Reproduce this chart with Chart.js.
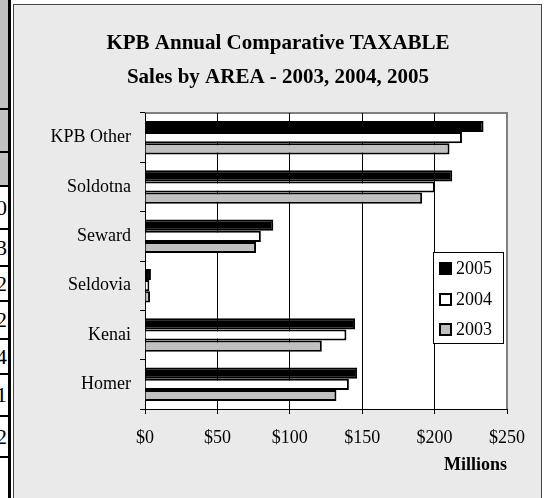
<!DOCTYPE html>
<html>
<head>
<meta charset="utf-8">
<script src="https://cdn.jsdelivr.net/npm/chart.js@4/dist/chart.umd.min.js"></script>
<style>
html,body{margin:0;padding:0;background:#fff;width:546px;height:498px;overflow:hidden;position:relative;font-family:"Liberation Serif","Times New Roman",serif;}
#frame{position:absolute;left:13px;top:4px;width:527px;height:500px;border:1px solid #444;background:#eaeaea;}
#strip{position:absolute;left:0;top:0;width:8px;height:498px;border-right:3px solid #000;}
.cell{position:absolute;left:0;width:8px;overflow:hidden;border-top:2px solid #000;box-sizing:border-box;}
.cell span{position:absolute;right:1px;font-size:22px;line-height:22px;color:#000;white-space:nowrap;}
#c{position:absolute;left:0;top:0;}
</style>
</head>
<body>
<div id="strip"></div>
<div id="frame"></div>
<canvas id="c" width="546" height="498"></canvas>
<script>
// ---- data ----
const categories = ['KPB Other', 'Soldotna', 'Seward', 'Seldovia', 'Kenai', 'Homer'];
const seriesLabels = ['2005', '2004', '2003'];
const sales2005 = [233.8, 212.2, 88.6, 4.1, 145.1, 146.5];
const sales2004 = [218.9, 200.2, 80.0, 3.0, 139.1, 140.8];
const sales2003 = [210.3, 191.4, 76.7, 3.5, 122.1, 132.2];
const xTickValues = [0, 50, 100, 150, 200, 250];
const chartTitle = ['KPB Annual Comparative TAXABLE', 'Sales by AREA - 2003, 2004, 2005'];
const axisTitle = 'Millions';
// partially visible neighbouring table (left edge)
const stripDigits = ['', '', '', '0', '3', '2', '2', '4', '1', '2'];

// ---- left strip (cropped table) ----
(function(){
  const strip = document.getElementById('strip');
  const bounds = [0, 108, 151, 185, 228, 265, 300, 338, 373, 415, 456, 498];
  for (let i = 0; i < bounds.length - 1; i++) {
    const d = document.createElement('div');
    d.className = 'cell';
    d.style.top = bounds[i] + 'px';
    d.style.height = (bounds[i+1] - bounds[i]) + 'px';
    d.style.background = i < 3 ? '#c0c0c0' : '#fff';
    if (i === 0) d.style.borderTop = 'none';
    const t = stripDigits[i] || '';
    if (t) {
      const s = document.createElement('span');
      s.textContent = t;
      s.style.top = ((bounds[i+1] - bounds[i]) / 2 - 12) + 'px';
      d.appendChild(s);
    }
    strip.appendChild(d);
  }
})();

const FONT = 'Liberation Serif';

const plotBg = {
  id: 'plotBg',
  beforeDraw(chart) {
    const {ctx, chartArea: a} = chart;
    ctx.save();
    ctx.fillStyle = '#ffffff';
    ctx.fillRect(a.left, a.top, a.right - a.left, a.bottom - a.top);
    ctx.strokeStyle = '#808080';
    ctx.lineWidth = 2;
    ctx.beginPath();
    ctx.moveTo(a.left, a.top);
    ctx.lineTo(a.right, a.top);
    ctx.lineTo(a.right, a.bottom);
    ctx.stroke();
    ctx.restore();
  }
};

const boxLegend = {
  id: 'boxLegend',
  afterDraw(chart) {
    const {ctx, chartArea: a} = chart;
    const w = 70, h = 91;
    const x = Math.round(a.right - 4 - w), y = Math.round(a.top + 139);
    ctx.save();
    ctx.fillStyle = '#fff';
    ctx.fillRect(x, y, w, h);
    ctx.strokeStyle = '#000';
    ctx.lineWidth = 1;
    ctx.strokeRect(x + 0.5, y + 0.5, w, h);
    ctx.font = Chart.helpers.toFont({family: FONT, size: 18}).string;
    ctx.textBaseline = 'middle';
    ctx.textAlign = 'left';
    const rows = [16, 47, 77];
    chart.data.datasets.forEach((ds, i) => {
      const cy = y + rows[i];
      ctx.fillStyle = ds.backgroundColor;
      ctx.fillRect(x + 6, cy - 6, 13, 13);
      ctx.lineWidth = 2;
      ctx.strokeStyle = '#000';
      ctx.strokeRect(x + 7, cy - 5, 11, 11);
      ctx.fillStyle = '#000';
      ctx.fillText(ds.label, x + 23, cy + 1);
    });
    ctx.restore();
  }
};

function draw() {
  new Chart(document.getElementById('c'), {
    type: 'bar',
    data: {
      labels: categories,
      datasets: [
        {label: seriesLabels[0], data: sales2005, backgroundColor: '#000000', borderColor: '#000', borderWidth: 2},
        {label: seriesLabels[1], data: sales2004, backgroundColor: '#ffffff', borderColor: '#000', borderWidth: 2},
        {label: seriesLabels[2], data: sales2003, backgroundColor: '#c0c0c0', borderColor: '#000', borderWidth: 2}
      ]
    },
    options: {
      responsive: false,
      animation: false,
      indexAxis: 'y',
      devicePixelRatio: 1,
      datasets: {bar: {categoryPercentage: 0.68, barPercentage: 1.0}},
      layout: {padding: {left: 49, right: 39, top: 0, bottom: 19}},
      plugins: {
        legend: {display: false},
        tooltip: {enabled: false},
        title: {
          display: true,
          text: chartTitle,
          color: '#000',
          font: {family: FONT, size: 21, weight: 'bold', lineHeight: 1.6},
          padding: {top: 27, bottom: 18.8}
        }
      },
      scales: {
        x: {
          min: 0, max: 250,
          afterBuildTicks: s => { s.ticks = xTickValues.map(v => ({value: v})); },
          afterFit: s => { s.height = 70; },
          ticks: {
            callback: v => '$' + v,
            color: '#000',
            font: {family: FONT, size: 18},
            padding: 13,
            maxRotation: 0,
            autoSkip: false
          },
          grid: {
            color: c => (c.tick && c.tick.value === 250) ? '#808080' : '#000',
            tickColor: '#000',
            lineWidth: 1,
            tickLength: 5,
            drawOnChartArea: true,
            drawTicks: true
          },
          border: {color: '#000', width: 1},
          title: {
            display: true, text: axisTitle, align: 'end', color: '#000',
            font: {family: FONT, size: 18, weight: 'bold'},
            padding: {top: 0, bottom: 3}
          }
        },
        y: {
          afterFit: s => { s.width = 96; },
          ticks: {color: '#000', font: {family: FONT, size: 18}, padding: 9},
          grid: {drawOnChartArea: false, drawTicks: true, tickLength: 5, color: '#000', offset: true},
          border: {color: '#000', width: 1}
        }
      }
    },
    plugins: [plotBg, boxLegend]
  });
}

if (document.fonts && document.fonts.load) {
  Promise.all([
    document.fonts.load('18px "Liberation Serif"'),
    document.fonts.load('bold 18px "Liberation Serif"')
  ]).then(draw, draw);
} else {
  draw();
}
</script>
</body>
</html>
